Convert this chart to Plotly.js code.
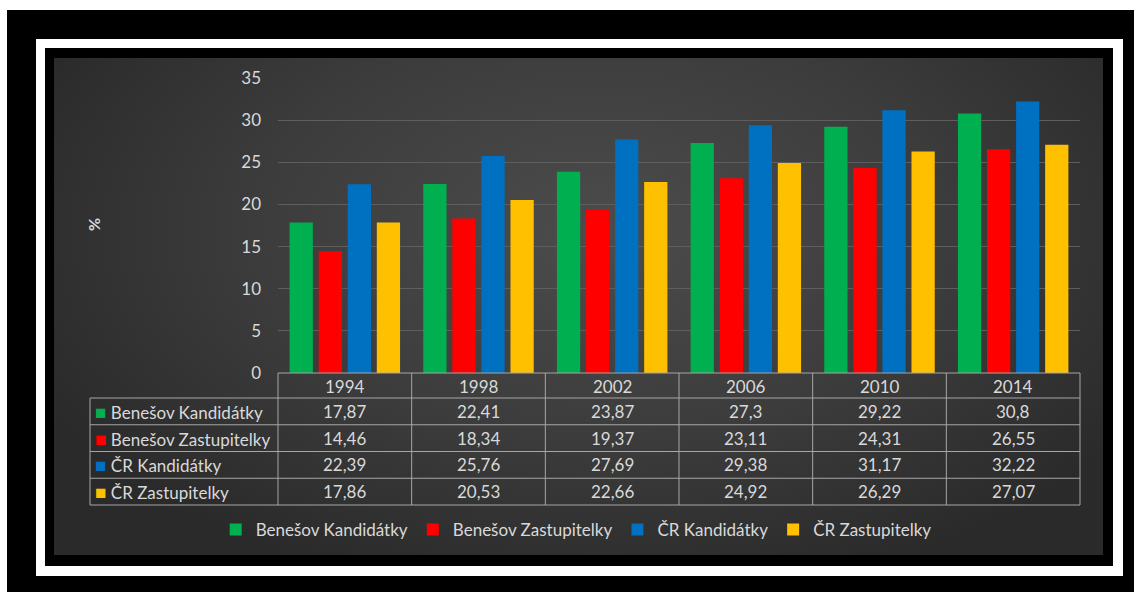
<!DOCTYPE html>
<html>
<head>
<meta charset="utf-8">
<script src="https://cdn.plot.ly/plotly-3.0.1.min.js"></script>
<style>
  html, body { margin:0; padding:0; background:#ffffff; }
  #wrap { position:relative; width:1141px; height:601px; overflow:hidden; background:#ffffff; }
  #outer { position:absolute; left:7px; top:10px; width:1127px; height:582px; background:#000; }
  #white { position:absolute; left:36px; top:39px; width:1087px; height:537px; background:#fff; }
  #inner { position:absolute; left:45px; top:48px; width:1068px; height:518px; background:#000; }
  #panel { position:absolute; left:54px; top:58px; width:1049px; height:497px;
           background: radial-gradient(ellipse 60% 75% at 52% 35%, #4c4c4c 0%, #3c3c3c 55%, #2a2a2a 100%); }
  #chart { position:absolute; left:0; top:0; width:1141px; height:601px; }
</style>
</head>
<body>
<div id="wrap">
  <div id="outer"></div><div id="white"></div><div id="inner"></div><div id="panel"></div>
  <div id="chart"></div>
</div>
<script>
const years = ['1994','1998','2002','2006','2010','2014'];
const seriesNames = ['Benešov Kandidátky','Benešov Zastupitelky','ČR Kandidátky','ČR Zastupitelky'];
const benesovKandidatky = [17.87, 22.41, 23.87, 27.3, 29.22, 30.8];
const benesovZastupitelky = [14.46, 18.34, 19.37, 23.11, 24.31, 26.55];
const crKandidatky = [22.39, 25.76, 27.69, 29.38, 31.17, 32.22];
const crZastupitelky = [17.86, 20.53, 22.66, 24.92, 26.29, 27.07];
const yTicks = [0, 5, 10, 15, 20, 25, 30, 35];

const seriesValues = [benesovKandidatky, benesovZastupitelky, crKandidatky, crZastupitelky];
const colors = ['#00b050', '#ff0000', '#0070c0', '#ffc000'];

const W = 1141, H = 601;
const px = v => v / W;
const py = v => 1 - v / H;
const textColor = '#d9d9d9';
const lineColor = '#a6a6a6';
const FONT = 'Lato, "Open Sans", sans-serif';
const FS = 17;

const traces = seriesNames.map((name, i) => ({
  type: 'bar',
  name: name,
  x: years,
  y: seriesValues[i],
  marker: { color: colors[i], line: { width: 0 } },
  hoverinfo: 'x+y+name'
}));

// table geometry (pixels)
const tableLeft = 90, plotLeft = 278, plotRight = 1080;
const headerTop = 373, headerBottom = 398, rowH = 26.75;
const rowTops = seriesNames.map((_, i) => headerBottom + i * rowH);
const tableBottom = headerBottom + seriesNames.length * rowH;

const shapes = [];
const lineStyle = { color: lineColor, width: 1 };
shapes.push({ type:'line', xref:'paper', yref:'paper', x0:px(plotLeft), x1:px(plotRight), y0:py(headerTop), y1:py(headerTop), line:lineStyle });
[headerBottom, ...rowTops.slice(1), tableBottom].forEach(t => {
  shapes.push({ type:'line', xref:'paper', yref:'paper', x0:px(tableLeft), x1:px(plotRight), y0:py(t), y1:py(t), line:lineStyle });
});
shapes.push({ type:'line', xref:'paper', yref:'paper', x0:px(tableLeft), x1:px(tableLeft), y0:py(headerBottom), y1:py(tableBottom), line:lineStyle });
shapes.push({ type:'line', xref:'paper', yref:'paper', x0:px(plotLeft), x1:px(plotLeft), y0:py(headerTop), y1:py(tableBottom), line:lineStyle });
shapes.push({ type:'line', xref:'paper', yref:'paper', x0:px(plotRight), x1:px(plotRight), y0:py(headerTop), y1:py(tableBottom), line:lineStyle });
years.slice(1).forEach((_, i) => {
  shapes.push({ type:'line', xref:'x', yref:'paper', x0:i + 0.5, x1:i + 0.5, y0:py(headerTop), y1:py(tableBottom), line:lineStyle });
});

const annotations = [];
const fmt = v => String(v).replace('.', ',');
years.forEach((yr, j) => {
  annotations.push({ xref:'x', yref:'paper', x:j, y:py((headerTop + headerBottom) / 2 + 1), text:yr, showarrow:false,
    xanchor:'center', yanchor:'middle', font:{ family:FONT, size:FS, color:textColor } });
});
seriesNames.forEach((name, i) => {
  const yc = py(rowTops[i] + rowH / 2);
  annotations.push({ xref:'paper', yref:'paper', x:px(tableLeft + 3), y:yc, showarrow:false, xanchor:'left', yanchor:'middle',
    text:'<span style="color:' + colors[i] + ';font-size:19px">■</span> ' + name, font:{ family:FONT, size:FS, color:textColor } });
  seriesValues[i].forEach((v, j) => {
    annotations.push({ xref:'x', yref:'paper', x:j, y:yc, text:fmt(v), showarrow:false,
      xanchor:'center', yanchor:'middle', font:{ family:FONT, size:FS, color:textColor } });
  });
});
annotations.push({ xref:'paper', yref:'paper', x:px(93), y:py(225), text:'<b>%</b>', textangle:-90, showarrow:false,
  xanchor:'center', yanchor:'middle', font:{ family:FONT, size:16, color:textColor } });

const layout = {
  width: W, height: H,
  margin: { l:0, r:0, t:0, b:0 },
  paper_bgcolor: 'rgba(0,0,0,0)',
  plot_bgcolor: 'rgba(0,0,0,0)',
  font: { family: FONT, color: textColor, size: FS },
  barmode: 'group',
  bargap: 0.13,
  bargroupgap: 0.2,
  showlegend: true,
  legend: { orientation:'h', x:0.505, xanchor:'center', y:py(530), yanchor:'middle',
    font:{ family:FONT, size:FS, color:textColor }, bgcolor:'rgba(0,0,0,0)', itemwidth:30 },
  xaxis: { type:'category', domain:[px(plotLeft), px(plotRight)], range:[-0.5, 5.5],
    showticklabels:false, showgrid:false, zeroline:false, showline:false, ticks:'', fixedrange:true },
  yaxis: { domain:[py(headerTop), py(78)], range:[0, 35], tickvals:yTicks, ticktext:yTicks.map(String),
    showgrid:true, gridcolor:'#5e5e5e', gridwidth:1, zeroline:false, showline:false, ticks:'',
    ticklabelstandoff:16, tickfont:{ family:FONT, size:FS, color:textColor }, fixedrange:true },
  shapes: shapes,
  annotations: annotations
};

Plotly.newPlot('chart', traces, layout, { displayModeBar:false, staticPlot:true });
</script>
</body>
</html>
